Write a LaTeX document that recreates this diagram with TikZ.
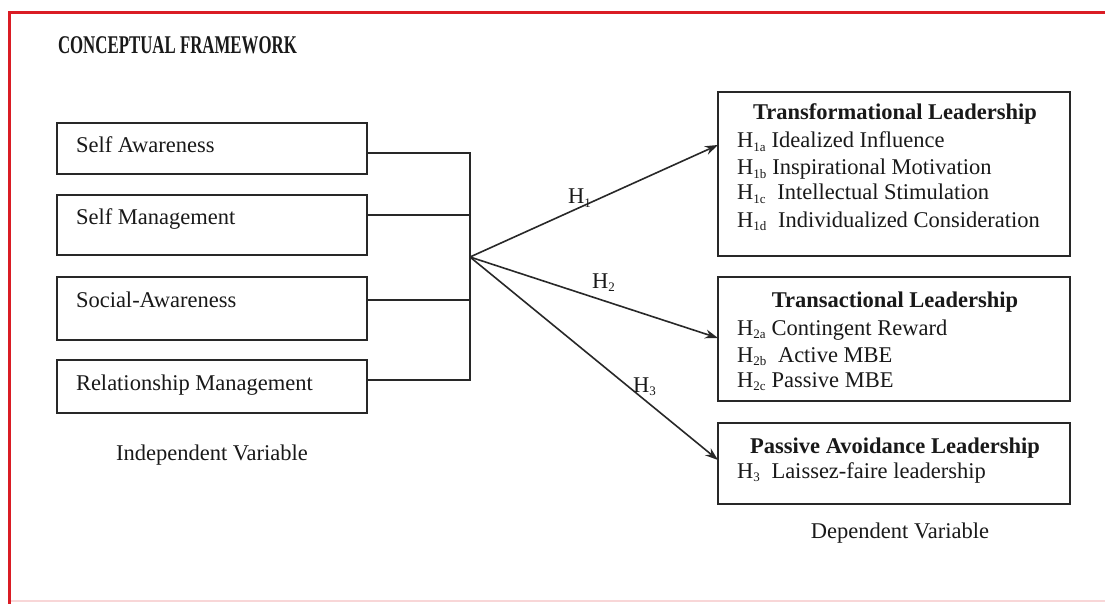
\documentclass[tikz,border=0pt]{standalone}
\usepackage{fontspec}
\setmainfont{Liberation Serif}
\usetikzlibrary{arrows.meta}
\definecolor{framered}{RGB}{218,28,36}
\definecolor{boxline}{RGB}{40,40,40}
\tikzset{
  every node/.style={inner sep=0pt, outer sep=0pt, text=black!90},
  txt/.style={font=\fontsize{22.5}{27}\selectfont, anchor=base west},
  ttl/.style={font=\fontsize{22.5}{27}\selectfont\bfseries, anchor=base},
  varbox/.style={draw=boxline, line width=1.8pt, anchor=north west},
  conn/.style={draw=boxline, line width=1.6pt},
  arr/.style={conn, -{Stealth[length=13pt,width=9pt]}},
  hlab/.style={font=\fontsize{22.5}{27}\selectfont, anchor=base west},
}
\newcommand{\hsub}[2]{H\textsubscript{\fontsize{13}{14}\selectfont #1}#2}
\begin{document}
\begin{tikzpicture}[x=1pt,y=-1pt]
\useasboundingbox (0,0) rectangle (1105,604);
\fill[white] (0,0) rectangle (1105,604);
% frame
\draw[framered, line width=3pt] (9,604) -- (9,13) -- (1105,13);
\draw[framered!18, line width=2pt] (11,601) -- (1105,601);
% heading
\node[anchor=base west, font=\fontsize{25.5}{30}\selectfont\bfseries] (head) at (58,54)
  {\scalebox{0.66}[1]{CONCEPTUAL FRAMEWORK}};
% left boxes
\node[varbox, minimum width=310pt, minimum height=51pt] (sa) at (57,123) {};
\node[varbox, minimum width=310pt, minimum height=60pt] (sm) at (57,195) {};
\node[varbox, minimum width=310pt, minimum height=63pt] (sc) at (57,277) {};
\node[varbox, minimum width=310pt, minimum height=53pt] (rm) at (57,360) {};
\node[txt] (saT) at (76,153) {Self Awareness};
\node[txt] (smT) at (76,225) {Self Management};
\node[txt] (scT) at (76,307) {Social-Awareness};
\node[txt] (rmT) at (76,390) {Relationship Management};
\node[txt, anchor=base] (ind) at (212,460) {Independent Variable};
% junction
\coordinate (j) at (470,257);
\draw[conn] ([yshift=-4.5pt]sa.east) -| (j);
\draw[conn] ([yshift=10pt]sm.east) -| (j);
\draw[conn] ([yshift=8.5pt]sc.east) -| (j);
\draw[conn] ([yshift=6.5pt]rm.east) -| (j);
% right boxes
\node[varbox, minimum width=352pt, minimum height=164pt] (tf) at (718,92) {};
\node[varbox, minimum width=352pt, minimum height=124pt] (tr) at (718,277) {};
\node[varbox, minimum width=352pt, minimum height=81pt] (pa) at (718,423) {};
% arrows
\draw[arr] (j) -- ([yshift=29pt]tf.west);
\draw[arr] (j) -- ([yshift=1pt]tr.west);
\draw[arr] (j) -- ([yshift=3.5pt]pa.west);
\node[hlab] (h1) at (568,204) {H\textsubscript{\fontsize{13}{14}\selectfont 1}};
\node[hlab] (h2) at (592,288) {H\textsubscript{\fontsize{13}{14}\selectfont 2}};
\node[hlab] (h3) at (633,392) {H\textsubscript{\fontsize{13}{14}\selectfont 3}};
% transformational
\node[ttl] (tfT) at (895,120) {Transformational Leadership};
\node[txt] (tf1) at (737,148) {\hsub{1a}{ Idealized Influence}};
\node[txt] (tf2) at (737,175) {\hsub{1b}{ Inspirational Motivation}};
\node[txt] (tf3) at (737,200) {\hsub{1c}{\ \ Intellectual Stimulation}};
\node[txt] (tf4) at (737,227) {\hsub{1d}{\ \ Individualized Consideration}};
% transactional
\node[ttl] (trT) at (895,307) {Transactional Leadership};
\node[txt] (tr1) at (737,335) {\hsub{2a}{ Contingent Reward}};
\node[txt] (tr2) at (737,362) {\hsub{2b}{\ \ Active MBE}};
\node[txt] (tr3) at (737,387) {\hsub{2c}{ Passive MBE}};
% passive avoidance
\node[ttl] (paT) at (895,453) {Passive Avoidance Leadership};
\node[txt] (pa1) at (737,478) {\hsub{3}{\ \ Laissez-faire leadership}};
\node[txt, anchor=base] (dep) at (900,538) {Dependent Variable};
\end{tikzpicture}
\end{document}
